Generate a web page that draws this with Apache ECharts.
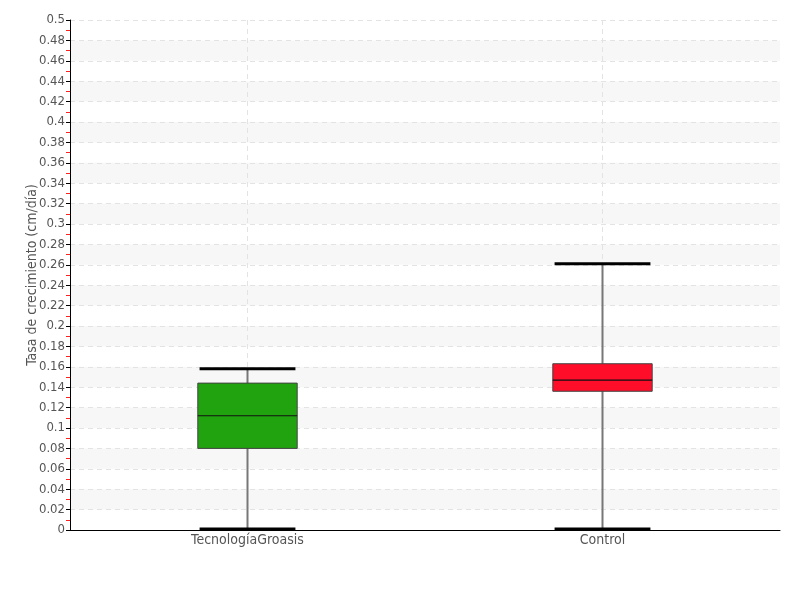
<!DOCTYPE html>
<html><head><meta charset="utf-8">
<script src="https://cdn.jsdelivr.net/npm/echarts@6/dist/echarts.min.js"></script>
<style>html,body{margin:0;padding:0;background:#fff}#c{width:800px;height:600px}</style>
</head><body><div id="c"></div>
<script>
const categories = ['TecnologíaGroasis', 'Control'];
const minVals = [0.001, 0.001];
const q1Vals = [0.080, 0.136];
const medianVals = [0.112, 0.147];
const q3Vals = [0.144, 0.163];
const maxVals = [0.158, 0.261];
const boxColors = ['#21a30f', '#ff0d29'];

const font = "'DejaVu Sans Condensed','Liberation Sans Narrow',sans-serif";
const chart = echarts.init(document.getElementById('c'));
const data = categories.map((c, i) => [i, minVals[i], q1Vals[i], medianVals[i], q3Vals[i], maxVals[i]]);

chart.setOption({
  animation: false,
  grid: {left: 70, right: 20, top: 20, bottom: 70},
  xAxis: {
    type: 'category', data: categories,
    axisLine: {lineStyle: {color: '#000', width: 1}},
    axisTick: {show: false},
    axisLabel: {color: '#555', fontFamily: font, fontSize: 14, margin: 3},
    splitLine: {show: false}
  },
  yAxis: {
    type: 'value', min: 0, max: 0.5, interval: 0.02,
    name: 'Tasa de crecimiento (cm/día)', nameLocation: 'middle', nameGap: 31,
    nameMoveOverlap: false,
    nameTextStyle: {color: '#555', fontFamily: font, fontSize: 14},
    axisLine: {show: true, lineStyle: {color: '#000', width: 1}},
    axisTick: {show: true, length: 4, lineStyle: {color: '#000'}},
    minorTick: {show: true, splitNumber: 2, length: 4, lineStyle: {color: '#ff2020', width: 1}},
    axisLabel: {color: '#555', fontFamily: font, fontSize: 13, margin: 5,
      formatter: v => String(+v.toFixed(2)).replace(/^0\.0*$/, '0')},
    splitLine: {show: true, lineStyle: {color: '#e3e3e3', type: [5, 4]}},
    splitArea: {show: true, areaStyle: {color: ['rgba(0,0,0,0)', '#f7f7f7']}}
  },
  series: [{
    type: 'custom',
    data: data,
    encode: {x: 0, y: [1, 2, 3, 4, 5]},
    renderItem: function (params, api) {
      const idx = api.value(0);
      const band = api.size([1, 0])[0];
      const boxW = band * 0.28, capW = band * 0.27;
      const pMin = api.coord([idx, api.value(1)]);
      const pQ1 = api.coord([idx, api.value(2)]);
      const pMed = api.coord([idx, api.value(3)]);
      const pQ3 = api.coord([idx, api.value(4)]);
      const pMax = api.coord([idx, api.value(5)]);
      const pTop = api.coord([idx, 0.5]);
      const x = pMin[0];
      return {type: 'group', children: [
        {type: 'line', shape: {x1: x, y1: pTop[1], x2: x, y2: pMin[1]},
          style: {stroke: '#e3e3e3', lineWidth: 1, lineDash: [5, 4]}},
        {type: 'line', shape: {x1: x, y1: pMax[1], x2: x, y2: pMin[1]},
          style: {stroke: '#777', lineWidth: 2}},
        {type: 'rect', shape: {x: x - boxW / 2, y: pQ3[1], width: boxW, height: pQ1[1] - pQ3[1]},
          style: {fill: boxColors[idx], stroke: '#444', lineWidth: 1}},
        {type: 'line', shape: {x1: x - boxW / 2, y1: pMed[1], x2: x + boxW / 2, y2: pMed[1]},
          style: {stroke: '#111', lineWidth: 1.2}},
        {type: 'line', shape: {x1: x - capW / 2, y1: pMax[1], x2: x + capW / 2, y2: pMax[1]},
          style: {stroke: '#000', lineWidth: 3}},
        {type: 'line', shape: {x1: x - capW / 2, y1: pMin[1], x2: x + capW / 2, y2: pMin[1]},
          style: {stroke: '#000', lineWidth: 3}}
      ]};
    }
  }]
});
</script></body></html>
